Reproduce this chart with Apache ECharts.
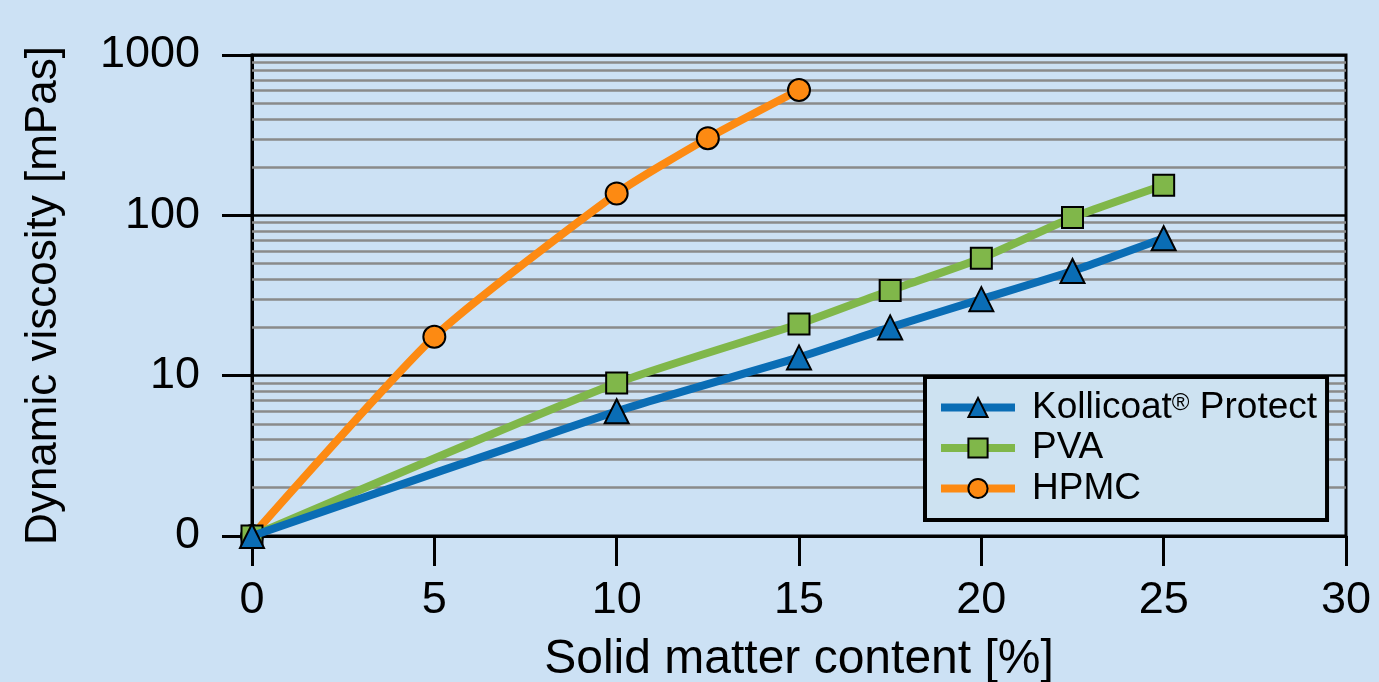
<!DOCTYPE html>
<html>
<head>
<meta charset="utf-8">
<style>
  html, body { margin: 0; padding: 0; background: #cce1f4; }
  #chart { width: 1379px; height: 682px; }
</style>
<script src="https://cdn.jsdelivr.net/npm/echarts@6/dist/echarts.min.js"></script>
</head>
<body>
<div id="chart"></div>
<script>
// Solid matter content [%] and dynamic viscosity [mPas] per polymer
const kollicoatX = [0, 10, 15, 17.5, 20, 22.5, 25];
const kollicoatY = [1, 6, 13, 20, 30, 45, 72];
const pvaX = [0, 10, 15, 17.5, 20, 22.5, 25];
const pvaY = [1, 9, 21, 34, 54, 97, 154];
const hpmcX = [0, 5, 10, 12.5, 15];
const hpmcY = [1, 17.5, 137, 303, 605];

const seriesNames = ['Kollicoat® Protect', 'PVA', 'HPMC'];
const xTicks = [0, 5, 10, 15, 20, 25, 30];
// minor log grid lines between decades
const minorLevels = [2, 3, 4, 5, 6, 7, 8, 9, 20, 30, 40, 50, 60, 70, 80, 90, 200, 300, 400, 500, 600, 700, 800, 900];

const FONT = '"Liberation Sans", Arial, sans-serif';
const zip = (xs, ys) => xs.map((x, i) => [x, ys[i]]);

const chart = echarts.init(document.getElementById('chart'));

const markerStyle = (color) => ({ color: color, borderColor: '#000', borderWidth: 2 });

chart.setOption({
  backgroundColor: '#cce1f4',
  animation: false,
  grid: {
    left: 252, right: 33, top: 55, bottom: 146,
    outerBoundsMode: 'none', containLabel: false,
    show: true, borderColor: '#000', borderWidth: 3, backgroundColor: 'transparent'
  },
  legend: {
    data: seriesNames,
    orient: 'vertical',
    left: 925, top: 377,
    z: 50, zlevel: 1,
    backgroundColor: '#cde2f1',
    borderColor: '#000', borderWidth: 4, borderRadius: 0,
    padding: [12, 10, 13, 12],
    itemWidth: 74, itemHeight: 24, itemGap: 3.5,
    lineStyle: { width: 8 },
    textStyle: {
      fontFamily: FONT, fontSize: 37, color: '#000', lineHeight: 32,
      rich: {
        g: { width: 12 },
        n: { fontFamily: FONT, fontSize: 37, color: '#000', lineHeight: 32 },
        sup: { fontFamily: FONT, fontSize: 24, color: '#000', verticalAlign: 'top', lineHeight: 22 }
      }
    },
    formatter: (name) => {
      const i = name.indexOf('®');
      if (i < 0) return '{g|}{n|' + name + '}';
      return '{g|}{n|' + name.slice(0, i) + '}{sup|®}{n|' + name.slice(i + 1) + '}';
    }
  },
  xAxis: {
    type: 'value', min: 0, max: 30, interval: 5,
    name: 'Solid matter content [%]',
    nameLocation: 'middle', nameGap: 100,
    nameTextStyle: { fontFamily: FONT, fontSize: 48, color: '#000' },
    axisLine: { show: true, onZero: false, lineStyle: { color: '#000', width: 3 } },
    axisTick: { show: true, length: 30, lineStyle: { color: '#000', width: 3 } },
    axisLabel: {
      fontFamily: FONT, fontSize: 45, color: '#000', margin: 42,
      customValues: xTicks
    },
    splitLine: { show: false }
  },
  yAxis: {
    type: 'log', logBase: 10, min: 1, max: 1000,
    name: 'Dynamic viscosity [mPas]',
    nameLocation: 'middle', nameGap: 186,
    nameTextStyle: { fontFamily: FONT, fontSize: 44, color: '#000' },
    axisLine: { show: true, lineStyle: { color: '#000', width: 3 } },
    axisTick: { show: true, length: 30, lineStyle: { color: '#000', width: 3 } },
    axisLabel: {
      fontFamily: FONT, fontSize: 45, color: '#000', margin: 52,
      formatter: (v) => (v === 1 ? '0' : String(v))
    },
    splitLine: { show: true, lineStyle: { color: '#000', width: 2.5 } }
  },
  series: [
    {
      // minor grid lines only
      type: 'line', data: [], silent: true, z: 1,
      markLine: {
        silent: true, symbol: 'none', animation: false, z: 1,
        label: { show: false },
        lineStyle: { color: '#8a8a8a', width: 2.5, type: 'solid' },
        data: minorLevels.map(v => ({ yAxis: v }))
      }
    },
    {
      name: 'HPMC', type: 'line', z: 3,
      data: zip(hpmcX, hpmcY),
      smooth: 0.2,
      symbol: 'circle', symbolSize: 22,
      lineStyle: { color: '#fd8a12', width: 8 },
      itemStyle: markerStyle('#fd8a12')
    },
    {
      name: 'PVA', type: 'line', z: 4,
      data: zip(pvaX, pvaY),
      smooth: 0.2,
      symbol: 'rect', symbolSize: 21,
      lineStyle: { color: '#80b74a', width: 8 },
      itemStyle: markerStyle('#80b74a')
    },
    {
      name: 'Kollicoat® Protect', type: 'line', z: 5,
      data: zip(kollicoatX, kollicoatY),
      smooth: 0.2,
      symbol: 'triangle', symbolSize: 24,
      lineStyle: { color: '#0a6db5', width: 8 },
      itemStyle: markerStyle('#0a6db5')
    }
  ]
});
</script>
</body>
</html>
